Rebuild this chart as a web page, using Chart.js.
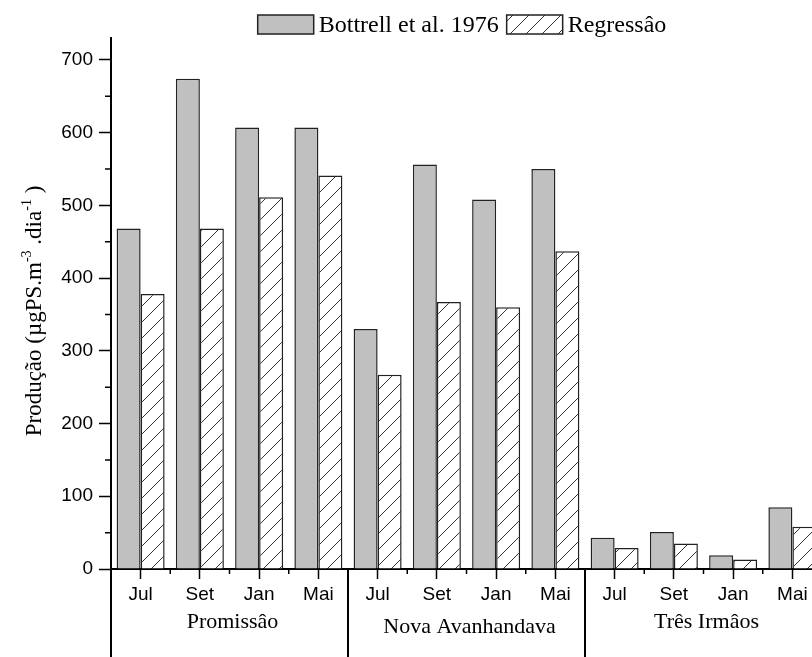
<!DOCTYPE html>
<html>
<head>
<meta charset="utf-8">
<script src="https://cdn.jsdelivr.net/npm/chart.js@4.4.1/dist/chart.umd.min.js"></script>
<style>
  html, body { margin: 0; padding: 0; background: #fff; overflow: hidden; }
  #wrap { width: 830px; height: 657px; }
</style>
</head>
<body>
<div id="wrap"><canvas id="chart" width="830" height="657"></canvas></div>
<script>
// data
var groups = ['Promissâo', 'Nova Avanhandava', 'Três Irmâos'];
var months = ['Jul', 'Set', 'Jan', 'Mai'];
var bottrell = [468, 674, 607, 607, 330, 556, 508, 550, 43, 51, 19, 85];
var regressao = [378, 468, 511, 541, 267, 367, 360, 437, 29, 35, 13, 58];
var seriesNames = ['Bottrell et al. 1976', 'Regressâo'];
var yTicks = [0, 100, 200, 300, 400, 500, 600, 700];
var yMinorTicks = [50, 150, 250, 350, 450, 550, 650];
var yMax = 730;

var SANS = '"Liberation Sans", Arial, sans-serif';
var SERIF = '"Liberation Serif", "Times New Roman", serif';

var labels = [];
groups.forEach(function() {
    months.forEach(function(m) { labels.push(m); });
});

// hatch pattern for the regression bars
function makeHatch() {
    var c = document.createElement('canvas');
    c.width = 16;
    c.height = 16;
    var g = c.getContext('2d');
    g.fillStyle = '#fff';
    g.fillRect(0, 0, 16, 16);
    g.strokeStyle = '#333';
    g.lineWidth = 1;
    g.beginPath();
    g.moveTo(0, 16); g.lineTo(16, 0);
    g.moveTo(-2, 2); g.lineTo(2, -2);
    g.moveTo(14, 18); g.lineTo(18, 14);
    g.stroke();
    return document.getElementById('chart').getContext('2d').createPattern(c, 'repeat');
}
var hatch = makeHatch();

// legend, y title, minor ticks, group labels and separators
var extras = {
    id: 'extras',
    afterDraw: function(chart) {
        var ctx = chart.ctx;
        var x = chart.scales.x;
        var y = chart.scales.y;
        var area = chart.chartArea;
        ctx.save();

        // minor ticks
        ctx.strokeStyle = '#000';
        ctx.lineWidth = 1.5;
        ctx.beginPath();
        yMinorTicks.forEach(function(v) {
            var py = y.getPixelForValue(v);
            ctx.moveTo(area.left, py);
            ctx.lineTo(area.left - 6, py);
        });
        var step = (x.getPixelForTick(1) - x.getPixelForTick(0));
        for (var i = 0; i < labels.length; i++) {
            var px = x.getPixelForTick(i) + step / 2;
            ctx.moveTo(px, area.bottom);
            ctx.lineTo(px, area.bottom + 5);
        }
        ctx.stroke();

        // group separators and labels
        ctx.lineWidth = 2;
        ctx.beginPath();
        for (var g = 0; g <= groups.length; g++) {
            var sx = x.getPixelForTick(0) - step / 2 + g * months.length * step;
            ctx.moveTo(sx, area.bottom);
            ctx.lineTo(sx, chart.height);
        }
        ctx.stroke();
        ctx.fillStyle = '#000';
        ctx.font = '22px ' + SERIF;
        ctx.textAlign = 'center';
        ctx.textBaseline = 'middle';
        groups.forEach(function(name, gi) {
            var first = x.getPixelForTick(gi * months.length);
            var last = x.getPixelForTick(gi * months.length + months.length - 1);
            var dy = name === 'Nova Avanhandava' ? 627 : 622;
            ctx.fillText(name, (first + last) / 2 + 3, dy);
        });

        // y axis title with superscripts
        var parts = [
            ['Produção (µgPS.m', false], ['-3', true], [' .dia', false], ['-1', true], [' )', false]
        ];
        var total = 0;
        parts.forEach(function(p) {
            ctx.font = (p[1] ? '14px ' : '23px ') + SERIF;
            p.push(ctx.measureText(p[0]).width);
            total += p[2];
        });
        ctx.translate(41, 311);
        ctx.rotate(-Math.PI / 2);
        ctx.textAlign = 'left';
        ctx.textBaseline = 'alphabetic';
        var cx = -total / 2;
        parts.forEach(function(p) {
            ctx.font = (p[1] ? '14px ' : '23px ') + SERIF;
            ctx.fillText(p[0], cx, p[1] ? -10 : 0);
            cx += p[2];
        });
        ctx.restore();

        // legend
        ctx.save();
        ctx.font = '24px ' + SERIF;
        var boxW = 56, boxH = 19, gap = 5, itemGap = 8;
        var widths = seriesNames.map(function(n) { return ctx.measureText(n).width; });
        var legendW = 2 * (boxW + gap) + widths[0] + widths[1] + itemGap;
        var lx = 462 - legendW / 2;
        var ly = 15;
        ctx.textBaseline = 'middle';
        ctx.textAlign = 'left';
        chart.data.datasets.forEach(function(ds, di) {
            ctx.fillStyle = ds.backgroundColor;
            ctx.fillRect(lx, ly, boxW, boxH);
            ctx.strokeStyle = '#222';
            ctx.lineWidth = 1.5;
            ctx.strokeRect(lx, ly, boxW, boxH);
            lx += boxW + gap;
            ctx.fillStyle = '#000';
            ctx.fillText(ds.label, lx, ly + boxH / 2 + 1);
            lx += widths[di] + itemGap;
        });
        ctx.restore();
    }
};

new Chart(document.getElementById('chart'), {
    type: 'bar',
    data: {
        labels: labels,
        datasets: [{
            label: seriesNames[0],
            data: bottrell,
            backgroundColor: '#c0c0c0',
            borderColor: '#222',
            borderWidth: 1.5,
            categoryPercentage: 0.81,
            barPercentage: 1
        }, {
            label: seriesNames[1],
            data: regressao,
            backgroundColor: hatch,
            borderColor: '#222',
            borderWidth: 1.5,
            categoryPercentage: 0.81,
            barPercentage: 1
        }]
    },
    options: {
        responsive: false,
        animation: false,
        devicePixelRatio: 1,
        layout: { padding: { top: 38, right: 8, left: 0, bottom: 0 } },
        plugins: {
            legend: { display: false },
            tooltip: { enabled: false }
        },
        scales: {
            x: {
                grid: {
                    offset: false,
                    drawOnChartArea: false,
                    drawTicks: true,
                    tickLength: 10,
                    tickWidth: 1.5,
                    tickColor: '#000'
                },
                border: { display: true, color: '#000', width: 2 },
                ticks: {
                    color: '#000',
                    font: { family: SANS, size: 19 },
                    padding: 4,
                    maxRotation: 0,
                    autoSkip: false
                },
                afterFit: function(s) { s.height = 88; }
            },
            y: {
                min: 0,
                max: yMax,
                grid: {
                    drawOnChartArea: false,
                    drawTicks: true,
                    tickLength: 12,
                    tickWidth: 1.5,
                    tickColor: '#000'
                },
                border: { display: true, color: '#000', width: 2 },
                ticks: {
                    stepSize: 100,
                    color: '#000',
                    font: { family: SANS, size: 19 },
                    padding: 6
                },
                afterBuildTicks: function(s) {
                    s.ticks = yTicks.map(function(v) { return { value: v }; });
                },
                afterFit: function(s) { s.width = 111; }
            }
        }
    },
    plugins: [extras]
});
</script>
</body>
</html>
